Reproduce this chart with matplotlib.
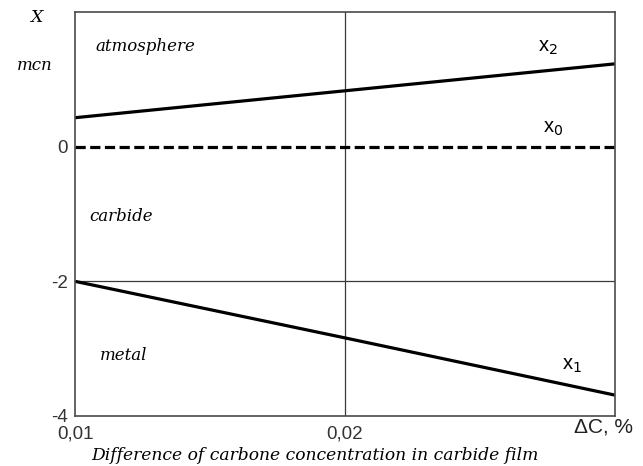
import matplotlib
matplotlib.use('Agg')
import matplotlib.pyplot as plt

dc = [0.01, 0.02, 0.03]
x2_vals = [0.43, 0.83, 1.23]
x0_vals = [0.0, 0.0, 0.0]
x1_vals = [-2.0, -2.84, -3.69]

x_ticks = [0.01, 0.02, 0.03]
x_ticklabels = ['0,01', '0,02', '']
y_ticks = [-4, -2, 0]
y_ticklabels = ['-4', '-2', '0']

plt.rcParams['font.family'] = ['Liberation Sans', 'DejaVu Sans']
serif_it = dict(family='DejaVu Serif', style='italic')

fig = plt.figure(figsize=(6.43, 4.66), dpi=100)
ax = fig.add_axes([75 / 643, 50 / 466, 540 / 643, 404 / 466])

ax.plot(dc, x2_vals, color='black', lw=2.3, solid_capstyle='butt')
ax.plot(dc, x0_vals, color='black', lw=2.3, dashes=(3.2, 1.4))
ax.plot(dc, x1_vals, color='black', lw=2.3, solid_capstyle='butt')

ax.axvline(0.02, color='#3a3a3a', lw=0.9, zorder=0)
ax.axhline(-2, color='#3a3a3a', lw=0.9, zorder=0)

ax.set_xlim(0.01, 0.03)
ax.set_ylim(-4, 2)
ax.set_xticks(x_ticks)
ax.set_xticklabels(x_ticklabels)
ax.set_yticks(y_ticks)
ax.set_yticklabels(y_ticklabels)
ax.tick_params(axis='both', length=0, labelsize=13.5, labelcolor='#333333')
ax.tick_params(axis='x', pad=6.5)
ax.tick_params(axis='y', pad=5)
for s in ax.spines.values():
    s.set_color('#4a4a4a')
    s.set_linewidth(1.2)

# region labels
ax.text(0.01259, 1.49, 'atmosphere', fontsize=12, ha='center', va='center', **serif_it)
ax.text(0.0117, -1.03, 'carbide', fontsize=12, ha='center', va='center', **serif_it)
ax.text(0.01181, -3.1, 'metal', fontsize=12, ha='center', va='center', **serif_it)

ax.text(0.0275, 1.48, r'x$_2$', fontsize=14.5, ha='center', va='center')
ax.text(0.0277, 0.27, r'x$_0$', fontsize=14.5, ha='center', va='center')
ax.text(0.0284, -3.25, r'x$_1$', fontsize=14.5, ha='center', va='center')

fig.text(36 / 643, 1 - 18 / 466, 'X', fontsize=12.5, ha='center', va='center', **serif_it)
fig.text(35 / 643, 1 - 65 / 466, 'mcn', fontsize=12, ha='center', va='center', **serif_it)
fig.text(603 / 643, 1 - 427 / 466, 'ΔC, %', fontsize=15, ha='center', va='center', color='#222222')
fig.text(315 / 643, 1 - 456 / 466, 'Difference of carbone concentration in carbide film',
         fontsize=12.3, ha='center', va='center', **serif_it)

fig.savefig('out.png', dpi=100, facecolor='white')
